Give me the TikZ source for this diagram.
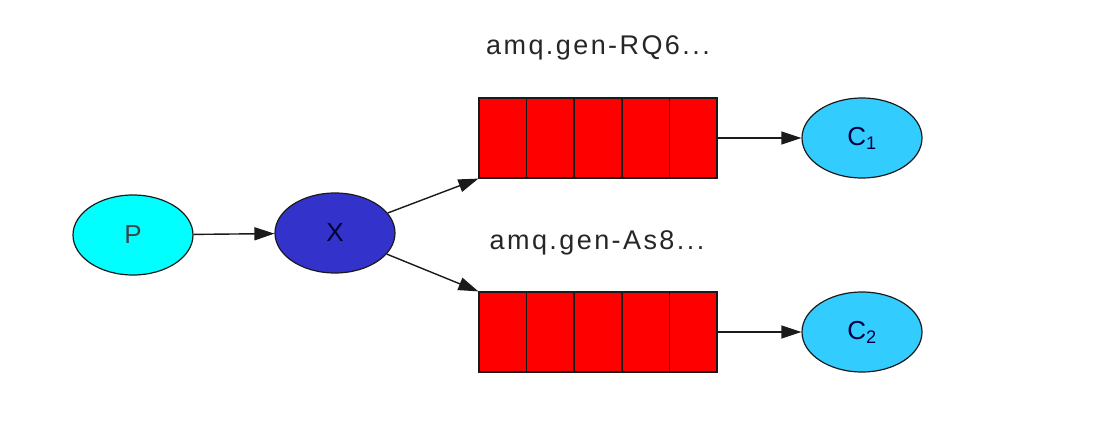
\documentclass[tikz,border=0pt]{standalone}
\usepackage{fontspec}
\setmainfont{Liberation Sans}
\newfontfamily\labelfont[LetterSpace=9]{Liberation Sans}
\usetikzlibrary{arrows.meta,shapes.geometric,calc}
\definecolor{pcyan}{HTML}{00FFFF}
\definecolor{xblue}{HTML}{3333CC}
\definecolor{cblue}{HTML}{33CCFF}
\definecolor{qred}{HTML}{FF0000}
\definecolor{edgecol}{HTML}{1A1A1A}
\begin{document}
\begin{tikzpicture}[x=1pt,y=-1pt,
  oval/.style={ellipse,draw=edgecol,line width=1.2pt,minimum width=120pt,minimum height=80pt,inner sep=0pt,font=\fontsize{26}{26}\selectfont},
  queue/.style={rectangle,draw=edgecol,line width=1.2pt,fill=qred,minimum width=238pt,minimum height=80pt,inner sep=0pt},
  conn/.style={draw=edgecol,line width=1.4pt,-{Triangle[length=20pt,width=13pt]}},
  qlabel/.style={font=\labelfont\fontsize{27}{27}\selectfont,text=black!85,inner sep=0pt}]
\useasboundingbox (0,0) rectangle (1116,444);
\fill[white] (0,0) rectangle (1116,444);
\node[oval,fill=pcyan,text={black!80!cyan}] (P) at (133,235) {P};
\node[oval,fill=xblue,text={black!80!blue}] (X) at (335,233) {X};
\node[queue] (q1) at (598,138) {};
\node[queue] (q2) at (598,332) {};
\foreach \q in {q1,q2}{
  \foreach \i in {1,2,3,4}{
    \draw[draw=edgecol,line width=1.2pt] ($(\q.north west)!\i/5!(\q.north east)$) -- ($(\q.south west)!\i/5!(\q.south east)$);
  }
}
\node[oval,fill=cblue,text={black!75!blue}] (C1) at (862,138) {C\textsubscript{1}};
\node[oval,fill=cblue,text={black!75!blue}] (C2) at (862,332) {C\textsubscript{2}};
\node[qlabel] (l1) at (598,48) {amq.gen-RQ6...};
\node[qlabel] (l2) at (597,243) {amq.gen-As8...};
\draw[conn] (P) -- (X);
\draw[conn] (X) -- (q1.south west);
\draw[conn] (X) -- (q2.north west);
\draw[conn] (q1) -- (C1);
\draw[conn] (q2) -- (C2);
\end{tikzpicture}
\end{document}
